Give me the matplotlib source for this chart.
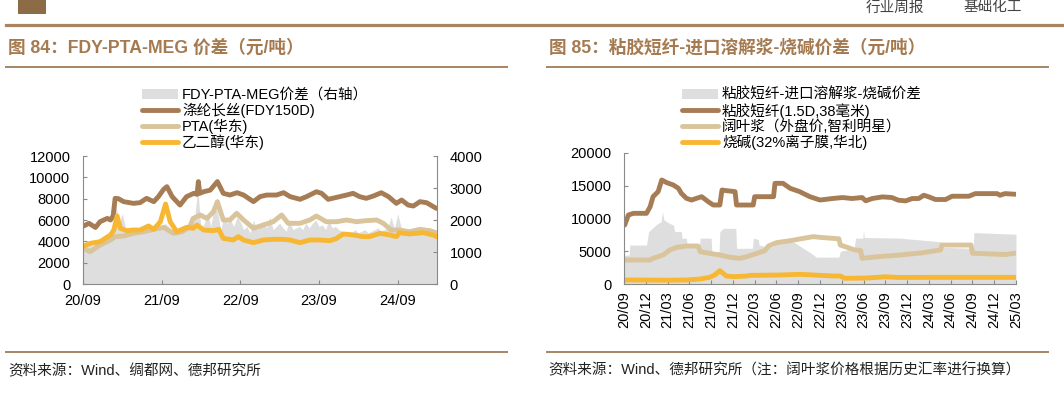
import numpy as np
import matplotlib
matplotlib.use('Agg')
import matplotlib.pyplot as plt
from matplotlib.lines import Line2D
from matplotlib.patches import Rectangle

plt.rcParams['font.family'] = ['Liberation Sans', 'Noto Sans CJK SC', 'DejaVu Sans']

# ---------------- data: left chart (x = months since 2020-09) ----------------
left_xticks = [0, 12, 24, 36, 48]
left_xlabels = ['20/09', '21/09', '22/09', '23/09', '24/09']

fdy_x = [0.1, 0.9, 1.9, 2.6, 3.7, 4.2, 4.6, 4.9, 5.4, 6.2, 7.7, 8.7, 9.7, 10.8, 11.5, 12.3, 12.8, 13.6,
         14.8, 15.8, 16.9, 17.4, 17.6, 17.8, 18.4, 19.4, 20.5, 21.4, 22.4, 23.5, 24.5, 26.0, 27.0, 28.0,
         29.5, 30.6, 31.6, 33.1, 34.1, 35.6, 36.4, 37.4, 38.7, 40.2, 41.2, 42.2, 43.2, 44.3, 45.5, 46.6,
         47.8, 48.6, 49.6, 50.4, 51.4, 52.4, 53.9]
fdy_y = [5440, 5690, 5300, 5840, 6150, 6000, 6400, 8030, 8000, 7720, 7560, 7625, 8030, 7720, 8190, 8875,
         9125, 8190, 7400, 8190, 8500, 8400, 9600, 8500, 8650, 8800, 9600, 8500, 8340, 8560, 8340, 7720,
         8190, 8340, 8340, 8560, 8190, 7940, 8190, 8650, 8500, 7940, 8125, 8340, 8500, 8190, 8030, 8250,
         8560, 8190, 7560, 7875, 7400, 7310, 7720, 7625, 7090]

pta_x = [0.1, 1.1, 2.6, 4.2, 4.9, 6.2, 7.7, 9.2, 10.8, 12.3, 13.8, 15.1, 16.3, 16.8, 17.9, 18.9, 19.9,
         20.5, 21.4, 22.4, 23.45, 24.5, 26.0, 27.5, 29.0, 30.3, 31.3, 33.1, 34.6, 35.6, 37.1, 38.7, 40.2,
         41.7, 43.2, 44.8, 45.8, 47.0, 48.3, 49.8, 51.4, 52.9, 53.9]
pta_y = [3340, 3030, 3650, 4125, 4440, 4500, 4750, 4900, 5125, 5310, 4750, 4900, 5375, 6150, 6470, 6150,
         6780, 7720, 6000, 6000, 6625, 6000, 5220, 5530, 5840, 6470, 5690, 5690, 6000, 6375, 5840, 5840,
         6000, 5840, 5940, 6000, 5690, 5060, 5060, 4900, 5125, 5000, 4810]

meg_x = [0.1, 1.1, 2.6, 4.2, 4.7, 5.2, 5.7, 6.7, 7.7, 8.7, 10.0, 10.8, 11.8, 12.6, 13.3, 14.3, 15.8, 16.8,
         17.4, 18.4, 19.9, 20.7, 21.4, 22.9, 23.7, 24.5, 26.0, 27.5, 29.0, 30.6, 31.6, 33.1, 34.6, 36.1,
         37.7, 38.7, 39.7, 41.2, 42.7, 43.7, 45.3, 46.8, 47.8, 48.3, 49.8, 51.9, 53.4, 53.9]
meg_y = [3560, 3810, 3970, 4600, 5060, 6375, 5220, 5000, 5060, 5060, 5440, 5125, 5840, 7500, 5840, 4900,
         5310, 5220, 5530, 5060, 5000, 5125, 4280, 4125, 4440, 4125, 3875, 4125, 4190, 4190, 4125, 3875,
         4125, 4125, 4060, 4280, 4690, 4600, 4440, 4440, 4750, 4600, 4440, 4810, 4690, 4810, 4600, 4440]

# FDY-PTA-MEG spread (right axis), half-month samples from 2020-09
spread_l = [1250, 1150, 1300, 1200, 1350, 1400, 1450, 1400, 1500, 1650,
            2500, 1900, 2200, 1700, 1650, 1800, 1600, 1700, 1650, 1750,
            1700, 1650, 1800, 1700, 1750, 1900, 1800, 1700, 1650, 1600,
            1700, 1750, 1900, 1800, 2000, 3000, 1700, 1900, 2200, 1800,
            2400, 2300, 1700, 2100, 1900, 2000, 1800, 2100, 1950, 1700,
            1800, 1600, 2000, 1700, 1800, 1950, 1750, 2100, 1700, 1800,
            1900, 1750, 1650, 2000, 1700, 1750, 1800, 1700, 1900, 1750,
            1900, 2000, 1800, 1850, 1700, 2000, 1750, 1800, 1700, 1650,
            1600, 1650, 1600, 1700, 1600, 1650, 1700, 1600, 1650, 1700,
            1750, 1650, 1700, 1750, 2100, 1700, 2200, 1800, 1650, 1700,
            1600, 1700, 1750, 1650, 1700, 1650, 1600, 1550, 1500]

# ---------------- data: right chart ----------------
right_xticks = list(range(0, 55, 3))
right_xlabels = ['20/09', '20/12', '21/03', '21/06', '21/09', '21/12', '22/03', '22/06', '22/09', '22/12',
                 '23/03', '23/06', '23/09', '23/12', '24/03', '24/06', '24/09', '24/12', '25/03']

vsf_x = [0.1, 0.6, 1.3, 3.1, 3.6, 4.0, 4.7, 5.2, 5.9, 6.8, 7.5, 7.9, 8.6, 9.3, 10.0, 10.7, 11.6, 12.3,
         13.2, 13.5, 14.1, 15.3, 15.5, 17.8, 18.0, 20.6, 20.8, 21.9, 22.9, 24.2, 25.6, 27.0, 28.7, 30.1,
         31.4, 32.8, 33.3, 34.2, 35.6, 36.9, 37.8, 38.8, 39.7, 40.6, 41.3, 42.0, 42.9, 44.3, 45.2, 46.6,
         47.5, 48.4, 49.8, 51.4, 51.8, 52.5, 53.9]
vsf_y = [9000, 10530, 10790, 10790, 11800, 13330, 14100, 15880, 15470, 15110, 14600, 13840, 13080, 12820,
         13080, 13330, 12570, 12060, 12060, 14350, 14250, 14100, 12060, 12060, 13330, 13330, 15370, 15370,
         14600, 14100, 13330, 12820, 13050, 13200, 13050, 13200, 12700, 13050, 13300, 13200, 12790, 12690,
         13050, 13050, 13550, 13300, 12900, 12900, 13400, 13400, 13400, 13800, 13800, 13800, 13550, 13800,
         13700]

pulp_x = [0.1, 3.6, 4.0, 5.4, 6.3, 7.3, 8.6, 10.2, 10.5, 11.8, 13.2, 14.6, 16.0, 16.9, 18.3, 19.4, 19.9,
          21.0, 22.9, 24.7, 26.1, 27.0, 29.6, 29.8, 31.8, 32.6, 32.8, 35.0, 38.0, 41.0, 43.6, 43.8, 47.8,
          48.0, 50.0, 52.5, 53.9]
pulp_y = [3660, 3660, 3920, 4430, 5190, 5600, 5800, 5800, 4940, 4680, 4430, 4070, 3920, 4170, 4680, 5090,
          5800, 6310, 6615, 6970, 7230, 7120, 6900, 5950, 5200, 5100, 3920, 4170, 4420, 4750, 5200, 5950,
          5950, 4700, 4600, 4500, 4700]

soda_x = [0.1, 3.0, 6.0, 8.6, 10.5, 11.8, 12.5, 13.2, 14.1, 15.1, 16.9, 17.4, 21.5, 24.2, 27.0, 28.9,
          29.8, 30.4, 33.5, 36.0, 37.8, 42.4, 53.9]
soda_y = [610, 600, 580, 610, 760, 1020, 1370, 2035, 1220, 1120, 1220, 1320, 1370, 1480, 1320, 1220,
          1220, 870, 910, 1100, 1000, 1015, 1015]

spread_r_x = [0.0, 0.7, 0.8, 3.1, 3.4, 4.0, 4.6, 5.1, 5.3, 5.5, 6.2, 6.8, 7.0, 7.9, 8.0, 8.6, 8.7, 10.4,
              10.5, 12.0, 12.1, 13.1, 13.2, 13.7, 15.4, 15.5, 17.7, 17.8, 18.5, 18.6, 19.6, 20.6, 20.7,
              23.3, 24.5, 25.5, 26.5, 29.6, 29.8, 31.7, 31.9, 32.9, 33.0, 33.1, 38.0, 43.6, 43.7, 48.1,
              48.2, 54.0]
spread_r_y = [4400, 4400, 5950, 5950, 8000, 8600, 9200, 9500, 11000, 9800, 9300, 9000, 8000, 8000, 7000,
              7000, 5950, 5950, 7000, 7000, 4950, 4950, 8000, 8500, 8500, 5450, 5450, 7000, 6800, 5950,
              5700, 5700, 6450, 6450, 5600, 4900, 4100, 4100, 5000, 5450, 7000, 7000, 8250, 7100, 7000,
              6450, 5600, 5450, 7850, 7600]

# ---------------- styling ----------------
BROWN = '#A67C55'
TAN = '#D9C49B'
YELLOW = '#F7B733'
GRAY = '#DEDEDE'
TITLE_C = '#A57A50'
RULE_C = '#A88462'
SPINE_C = '#8A8A8A'
FS = 10.5
LW = 3.5

W, H = 1064, 393
fig = plt.figure(figsize=(W / 100, H / 100), dpi=100)


def fx(px):
    return px / W


def fy(py):
    return 1 - py / H


# header
fig.add_artist(Rectangle((fx(18), fy(14)), 28 / W, 14 / H, color='#8E6B47', lw=0))
fig.add_artist(Line2D([fx(6), 1.0], [fy(25), fy(25)], color=RULE_C, lw=2.3))
fig.text(fx(866), fy(0.5), '行业周报', fontsize=10.5, color='#444444', va='top', ha='left')
fig.text(fx(964), fy(0.5), '基础化工', fontsize=10.5, color='#444444', va='top', ha='left')

# titles + rules
fig.text(fx(8), fy(48), '图 84：FDY-PTA-MEG 价差（元/吨）', fontsize=12.7, fontweight='bold',
         color=TITLE_C, va='center', ha='left')
fig.text(fx(549), fy(48), '图 85：粘胶短纤-进口溶解浆-烧碱价差（元/吨）', fontsize=12.7, fontweight='bold',
         color=TITLE_C, va='center', ha='left')
for x0, x1 in [(6, 507), (547, 1048)]:
    fig.add_artist(Line2D([fx(x0), fx(x1)], [fy(67), fy(67)], color=RULE_C, lw=1.4))
    fig.add_artist(Line2D([fx(x0), fx(x1)], [fy(352), fy(352)], color=RULE_C, lw=1.4))

fig.text(fx(8), fy(371), '资料来源：Wind、绸都网、德邦研究所', fontsize=FS, color='#222222', va='center')
fig.text(fx(548), fy(370), '资料来源：Wind、德邦研究所（注：阔叶浆价格根据历史汇率进行换算）',
         fontsize=FS, color='#222222', va='center')


def style_axis(ax):
    ax.spines['top'].set_visible(False)
    for s in ['left', 'right', 'bottom']:
        ax.spines[s].set_color(SPINE_C)
        ax.spines[s].set_linewidth(0.8)
    ax.tick_params(direction='in', length=3, width=0.8, color=SPINE_C, labelsize=FS, pad=9)


line_kw = dict(lw=LW, solid_capstyle='round', solid_joinstyle='round')

# ---------------- left chart ----------------
ax1 = fig.add_axes([fx(83), fy(284), (437 - 83) / W, (284 - 156) / H])
ax1r = ax1.twinx()
gx = np.arange(len(spread_l)) * 0.5
area1 = ax1r.fill_between(gx, 0, spread_l, color=GRAY, lw=0, label='FDY-PTA-MEG价差（右轴）')
l1, = ax1.plot(fdy_x, fdy_y, color=BROWN, label='涤纶长丝(FDY150D)', **line_kw)
l2, = ax1.plot(pta_x, pta_y, color=TAN, label='PTA(华东)', **line_kw)
l3, = ax1.plot(meg_x, meg_y, color=YELLOW, label='乙二醇(华东)', **line_kw)
ax1.set_zorder(ax1r.get_zorder() + 1)
ax1.patch.set_visible(False)
ax1.set_xlim(0, 54)
ax1.set_ylim(0, 12000)
ax1.set_yticks(range(0, 12001, 2000))
ax1r.set_ylim(0, 4000)
ax1r.set_yticks(range(0, 4001, 1000))
ax1.set_xticks(left_xticks)
ax1.set_xticklabels(left_xlabels)
style_axis(ax1)
style_axis(ax1r)
ax1.spines['right'].set_visible(False)
ax1r.spines['left'].set_visible(False)
ax1r.spines['bottom'].set_visible(False)
ax1.tick_params(axis='x', pad=7)

fig.legend(handles=[area1, l1, l2, l3], loc='upper left', bbox_to_anchor=(fx(142), fy(88)),
           frameon=False, fontsize=FS, handlelength=2.5, handletextpad=0.25, labelspacing=0.05,
           borderpad=0, borderaxespad=0)

# ---------------- right chart ----------------
ax2 = fig.add_axes([fx(624), fy(284), (1016 - 624) / W, (284 - 153) / H])
area2 = ax2.fill_between(spread_r_x, 0, spread_r_y, color=GRAY, lw=0, label='粘胶短纤-进口溶解浆-烧碱价差')
r1, = ax2.plot(vsf_x, vsf_y, color=BROWN, label='粘胶短纤(1.5D,38毫米)', **line_kw)
r2, = ax2.plot(pulp_x, pulp_y, color=TAN, label='阔叶浆（外盘价,智利明星）', **line_kw)
r3, = ax2.plot(soda_x, soda_y, color=YELLOW, label='烧碱(32%离子膜,华北)', **line_kw)
ax2.set_xlim(0, 54)
ax2.set_ylim(0, 20000)
ax2.set_yticks(range(0, 20001, 5000))
ax2.set_xticks(right_xticks)
ax2.set_xticklabels(right_xlabels, rotation=90)
style_axis(ax2)
ax2.spines['right'].set_visible(False)
ax2.tick_params(axis='x', pad=5)

fig.legend(handles=[area2, r1, r2, r3], loc='upper left', bbox_to_anchor=(fx(682), fy(88)),
           frameon=False, fontsize=FS, handlelength=2.5, handletextpad=0.25, labelspacing=0.05,
           borderpad=0, borderaxespad=0)

fig.savefig('out.png', dpi=100)
